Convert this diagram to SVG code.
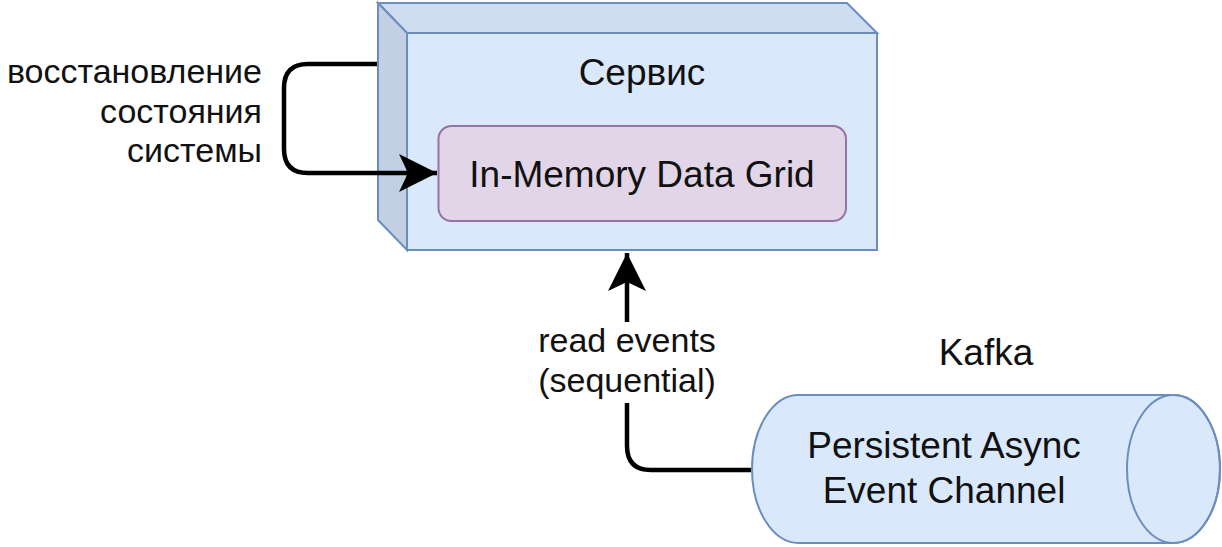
<svg xmlns="http://www.w3.org/2000/svg" width="1222" height="547" viewBox="0 0 1222 547">
  <style>
    .t { font-family: "Liberation Sans", Arial, sans-serif; fill: #111; }
    .big { font-size: 37px; }
    .lbl { font-size: 34px; }
    .edge { fill: none; stroke: #000; stroke-width: 4.5; stroke-linejoin: round; }
    .blue { stroke: #6c8ebf; stroke-width: 2; }
  </style>
  <defs>
    <marker id="arr" viewBox="0 0 40 40" refX="38" refY="20" markerUnits="userSpaceOnUse" markerWidth="40" markerHeight="40" orient="auto">
      <path d="M38,20 L0,1 L9,20 L0,39 Z" fill="#000"/>
    </marker>
  </defs>
  <rect width="1222" height="547" fill="#fff"/>

  <g id="service">
    <polygon points="407,33 877,33 877,250 407,250" fill="#dae8fc" class="blue"/>
    <polygon points="378,3 847,3 877,33 407,33" fill="#cfddf0" class="blue"/>
    <polygon points="378,3 407,33 407,250 378,220" fill="#c3cfe2" class="blue"/>
    <text class="t big" x="642" y="85" text-anchor="middle">Сервис</text>
  </g>

  <g id="imdg">
    <rect x="438.5" y="126" width="407.5" height="95" rx="13" ry="13" fill="#e1d5e7" stroke="#9673a6" stroke-width="2"/>
    <text class="t big" x="642" y="187" text-anchor="middle">In-Memory Data Grid</text>
  </g>

  <g id="kafka">
    <path d="M798.5,395 L1173.5,395 A46.5,74 0 0 1 1173.5,543 L798.5,543 A46.5,74 0 0 1 798.5,395 Z" fill="#dae8fc" class="blue"/>
    <ellipse cx="1173.5" cy="469" rx="46.5" ry="74" fill="none" class="blue"/>
    <text class="t big" x="944" y="458" text-anchor="middle">Persistent Async</text>
    <text class="t big" x="944" y="503" text-anchor="middle">Event Channel</text>
    <text class="t big" x="986" y="365" text-anchor="middle">Kafka</text>
  </g>

  <g id="connectors">
    <path class="edge" d="M377,64 L308,64 Q284,64 284,88 L284,149 Q284,173 308,173 L437,173" marker-end="url(#arr)"/>
    <path class="edge" d="M751,470 L651,470 Q627,470 627,446 L627,403"/>
    <path class="edge" d="M627,322 L627,253" marker-end="url(#arr)"/>
  </g>

  <g id="labels">
    <text class="t lbl" x="262" y="83" text-anchor="end">восстановление</text>
    <text class="t lbl" x="262" y="122.5" text-anchor="end">состояния</text>
    <text class="t lbl" x="262" y="162" text-anchor="end">системы</text>
    <text class="t lbl" x="627" y="352" text-anchor="middle">read events</text>
    <text class="t lbl" x="627" y="392" text-anchor="middle">(sequential)</text>
  </g>
</svg>
